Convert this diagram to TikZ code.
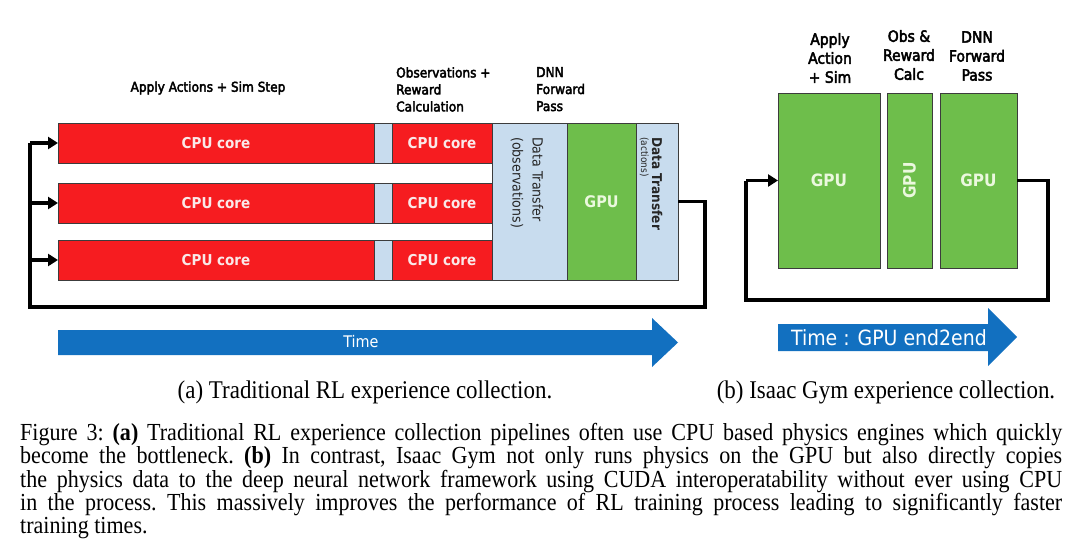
\documentclass[tikz,border=0pt]{standalone}
\usepackage{fontspec}
\setmainfont{Liberation Serif}[FakeStretch=0.9]
\newfontfamily\lblfont{DejaVu Sans Condensed}[FakeBold=3]
\newfontfamily\plainfont{DejaVu Sans Condensed}
\newfontfamily\boxfont{DejaVu Sans Condensed}[UprightFont=* Bold]
\usetikzlibrary{arrows.meta}
\definecolor{cpured}{RGB}{246,28,32}
\definecolor{xferblue}{RGB}{200,220,238}
\definecolor{gpugreen}{RGB}{110,190,75}
\definecolor{timeblue}{RGB}{18,112,192}
\definecolor{cputext}{RGB}{250,232,232}
\definecolor{gputext}{RGB}{235,248,222}
\definecolor{edge}{RGB}{60,60,60}
\tikzset{
  cell/.style={draw=edge, line width=0.6pt, anchor=north west, inner sep=0pt, outer sep=0pt},
  cpucell/.style={cell, fill=cpured, text=cputext, font=\boxfont\fontsize{15}{18}\selectfont},
  gapcell/.style={cell, fill=xferblue},
  xfercell/.style={cell, fill=xferblue},
  gpucell/.style={cell, fill=gpugreen, text=gputext, font=\boxfont\fontsize{16}{19}\selectfont},
  fb/.style={line width=3.5pt, line join=miter, draw=black},
  fbarrow/.style={fb, -{Triangle[length=10pt,width=12pt]}},
  lbl/.style={font=\lblfont\fontsize{13.5}{17}\selectfont, inner sep=0pt, text=black},
  rlbl/.style={font=\lblfont\fontsize{15.5}{19}\selectfont, inner sep=0pt, align=center, text=black},
}
\begin{document}
\begin{tikzpicture}[x=1pt,y=-1pt]
\useasboundingbox (0,0) rectangle (1080,560);
\fill[white] (0,0) rectangle (1080,560);

% ---------- (a) traditional ----------
\foreach \r/\t in {1/123,2/183,3/240}{
  \node[cpucell, minimum width=316pt, minimum height=40pt] (sim\r) at (58,\t) {CPU core};
  \node[gapcell, minimum width=18pt, minimum height=40pt] (gap\r) at (374,\t) {};
  \node[cpucell, minimum width=100pt, minimum height=40pt] (obs\r) at (392,\t) {CPU core};
}
\node[xfercell, minimum width=75pt, minimum height=157pt] (xobs) at (492,123) {};
\node[gpucell, minimum width=69pt, minimum height=157pt] (dnn) at (567,123) {GPU};
\node[xfercell, minimum width=42pt, minimum height=157pt] (xact) at (636,123) {};

\node[rotate=-90, anchor=west, align=left, inner sep=0pt,
      font=\plainfont\fontsize{14}{20}\selectfont, text=black!85]
      (xobstxt) at (527,137) {Data Transfer\\(observations)};
\node[rotate=-90, anchor=west, align=left, inner sep=0pt, text=black!85]
      (xacttxt) at (651,137) {{\boxfont\fontsize{13.5}{14}\selectfont Data Transfer}\\[-1pt]{\plainfont\fontsize{10}{12}\selectfont (actions)}};

% labels
\node[lbl, anchor=center] (lsim) at (208,88) {Apply Actions + Sim Step};
\node[lbl, anchor=north west, align=left] (lobs) at (396,67) {Observations +\\Reward\\Calculation};
\node[lbl, anchor=north west, align=left] (ldnn) at (536,67) {DNN\\Forward\\Pass};

% feedback loop
\coordinate (fa1) at (705,0);
\coordinate (fa2) at (30,307);
\draw[fb] (xact.east) -- (xact.east -| fa1) -- (fa1 |- fa2) -- (fa2) -- (fa2 |- sim1.west);
\draw[fbarrow] (fa2 |- sim1.west) -- (sim1.west);
\draw[fbarrow] (fa2 |- sim2.west) -- (sim2.west);
\draw[fbarrow] (fa2 |- sim3.west) -- (sim3.west);

% time arrow
\fill[timeblue] (58,330) -- (652,330) -- (652,318) -- (678,342.5) -- (652,367) -- (652,355) -- (58,355) -- cycle;
\node[font=\plainfont\fontsize{16}{19}\selectfont, text=white, inner sep=0pt] (ta) at (361,342) {Time};

% ---------- (b) isaac gym ----------
\node[gpucell, minimum width=102pt, minimum height=175pt, font=\boxfont\fontsize{17}{20}\selectfont] (g1) at (778,93) {GPU};
\node[gpucell, minimum width=45pt, minimum height=175pt] (g2) at (887,93) {};
\node[rotate=90, text=gputext, font=\boxfont\fontsize{17}{20}\selectfont, inner sep=0pt] (g2txt) at (g2.center) {GPU};
\node[gpucell, minimum width=77pt, minimum height=175pt, font=\boxfont\fontsize{17}{20}\selectfont] (g3) at (940,93) {GPU};

\node[rlbl] (rl1) at (830,58) {Apply\\Action\\+ Sim};
\node[rlbl] (rl2) at (909,55) {Obs \&\\Reward\\Calc};
\node[rlbl] (rl3) at (977,56) {DNN\\Forward\\Pass};

\coordinate (fb1) at (1048,300);
\coordinate (fb2) at (746,300);
\draw[fb] (g3.east) -- (g3.east -| fb1) -- (fb1) -- (fb2) -- (fb2 |- g1.west);
\draw[fbarrow] (fb2 |- g1.west) -- (g1.west);

\fill[timeblue] (778,324) -- (988,324) -- (988,308) -- (1017,337) -- (988,366) -- (988,351) -- (778,351) -- cycle;
\node[font=\plainfont\fontsize{21}{24}\selectfont, text=white, inner sep=0pt] (tb) at (889,338) {Time : GPU end2end};

% ---------- captions ----------
\node[font=\fontsize{25.5}{26}\selectfont, inner sep=0pt, anchor=base] (capa) at (365,398) {(a) Traditional RL experience collection.};
\node[font=\fontsize{25.5}{26}\selectfont, inner sep=0pt, anchor=base] (capb) at (886,398) {(b) Isaac Gym experience collection.};

\node[anchor=north west, inner sep=0pt, text width=1042pt, align=justify,
      font=\fontsize{24.5}{23.3}\selectfont\frenchspacing] (cap) at (20,423)
{Figure 3: \textbf{(a)} Traditional RL experience collection pipelines often use CPU based physics engines which quickly\linebreak
become the bottleneck. \textbf{(b)} In contrast, Isaac Gym not only runs physics on the GPU but also directly copies\linebreak
the physics data to the deep neural network framework using CUDA interoperatability without ever using CPU\linebreak
in the process. This massively improves the performance of RL training process leading to significantly faster\linebreak
training times.};
\end{tikzpicture}
\end{document}
